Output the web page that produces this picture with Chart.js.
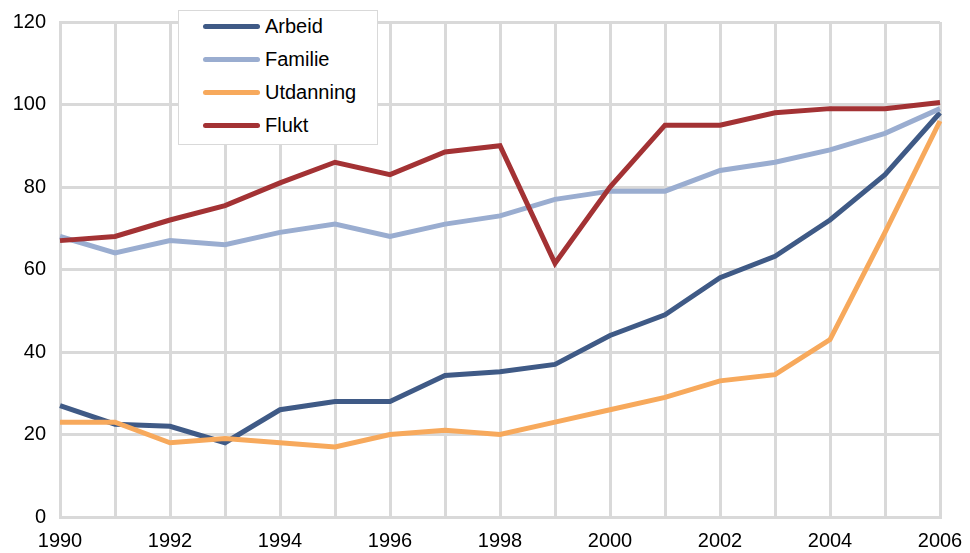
<!DOCTYPE html>
<html>
<head>
<meta charset="utf-8">
<script src="https://cdn.jsdelivr.net/npm/chart.js@4/dist/chart.umd.min.js"></script>
<style>
  body { margin: 0; background: #fff; }
  #wrap { position: relative; width: 970px; height: 553px; }
  #legend {
    position: absolute; left: 178px; top: 10px; width: 198px; height: 133px;
    background: #fff; border: 1px solid #d9d9d9;
    font-family: "Liberation Sans", Arial, sans-serif; font-size: 20px; color: #000;
  }
  .row { position: absolute; left: 24px; height: 24px; display: flex; align-items: center; }
  .row span.ln { display: inline-block; width: 57px; height: 5px; border-radius: 3px; margin-right: 5px; }
</style>
</head>
<body>
<div id="wrap">
  <canvas id="c" width="970" height="553"></canvas>
  <div id="legend"></div>
</div>
<script>
const years = ['1990','1991','1992','1993','1994','1995','1996','1997','1998','1999','2000','2001','2002','2003','2004','2005','2006']
const arbeid = [27, 22.5, 22, 18, 26, 28, 28, 34.3, 35.2, 37, 44, 49, 58, 63.2, 72, 83, 98]
const familie = [68, 64, 67, 66, 69, 71, 68, 71, 73, 77, 79, 79, 84, 86, 89, 93, 99]
const utdanning = [23, 23, 18, 19, 18, 17, 20, 21, 20, 23, 26, 29, 33, 34.5, 43, 69, 96]
const flukt = [67, 68, 72, 75.5, 81, 86, 83, 88.5, 90, 61.5, 80, 95, 95, 98, 99, 99, 100.5]

const seriesNames = ['Arbeid', 'Familie', 'Utdanning', 'Flukt']
const seriesColors = ['#3f5a86', '#9aadd0', '#f7a95c', '#a33234']
const seriesData = [arbeid, familie, utdanning, flukt]

const font = { family: '"Liberation Sans", Arial, sans-serif', size: 20 }

let datasets = seriesData.map((d, i) => ({
    label: seriesNames[i],
    data: d,
    borderColor: seriesColors[i],
    borderWidth: 5,
    pointRadius: 0,
    tension: 0,
    fill: false
}))

// draw Flukt on top like the original
datasets.reverse()

new Chart(document.getElementById('c'), {
    type: 'line',
    data: { labels: years, datasets },
    options: {
        responsive: false,
        animation: false,
        layout: { padding: { top: 22, right: 30, left: 0, bottom: 0 } },
        plugins: { legend: { display: false }, tooltip: { enabled: false } },
        scales: {
            x: {
                offset: false,
                grid: { color: '#d9d9d9', lineWidth: 3, drawTicks: false },
                border: { color: '#d9d9d9', width: 3 },
                ticks: {
                    autoSkip: false, maxRotation: 0, padding: 12, color: '#000', font,
                    callback: (v, i) => i % 2 == 0 ? years[i] : ''
                },
                afterFit: (s) => { s.height = 36; s.paddingLeft = 0; s.paddingRight = 0 }
            },
            y: {
                min: 0, max: 120,
                grid: { color: '#d9d9d9', lineWidth: 3, drawTicks: false },
                border: { color: '#d9d9d9', width: 3 },
                ticks: { stepSize: 20, padding: 14, color: '#000', font },
                afterFit: (s) => { s.width = 60; s.paddingTop = 0; s.paddingBottom = 0 }
            }
        }
    }
})

const legend = document.getElementById('legend')
seriesNames.forEach((name, i) => {
    let row = document.createElement('div')
    row.className = 'row'
    row.style.top = (3 + i * 33) + 'px'
    row.innerHTML = `<span class="ln" style="background:${seriesColors[i]}"></span>${name}`
    legend.appendChild(row)
})
</script>
</body>
</html>
